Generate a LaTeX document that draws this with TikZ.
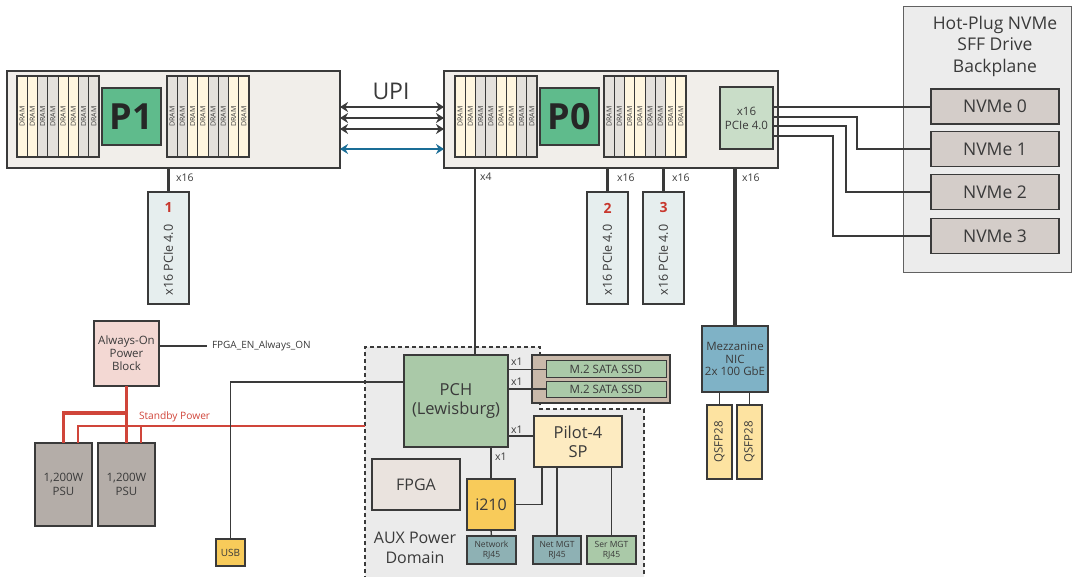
\documentclass[tikz,border=0pt]{standalone}
\usepackage{fontspec}
\setmainfont{Open Sans}
\usetikzlibrary{arrows.meta,calc}
\definecolor{ink}{HTML}{3A3A3A}
\definecolor{board}{HTML}{F1EEEA}
\definecolor{dcream}{HTML}{FFF6DF}
\definecolor{dgray}{HTML}{E4E1DC}
\definecolor{chip}{HTML}{5FBB8C}
\definecolor{pciebox}{HTML}{C9DDC8}
\definecolor{slotfill}{HTML}{E6EEEE}
\definecolor{slotred}{HTML}{C8372D}
\definecolor{bpfill}{HTML}{ECECEC}
\definecolor{nvfill}{HTML}{D4CDC9}
\definecolor{aofill}{HTML}{F3D8D3}
\definecolor{psufill}{HTML}{B4ADA8}
\definecolor{yel}{HTML}{F8CB5A}
\definecolor{auxfill}{HTML}{EBEBEB}
\definecolor{pchgreen}{HTML}{AAC9A8}
\definecolor{tan}{HTML}{C9B9AA}
\definecolor{pilotfill}{HTML}{FDEBC1}
\definecolor{fpgafill}{HTML}{EAE3DE}
\definecolor{teal}{HTML}{8EB1B4}
\definecolor{nicfill}{HTML}{7FB2C6}
\definecolor{qsfpfill}{HTML}{FDE3A1}
\definecolor{pred}{HTML}{D0453A}
\definecolor{upiblue}{HTML}{1A6D96}
\newcommand\fsz[2]{\fontsize{#1}{#2}\selectfont}
\begin{document}
\begin{tikzpicture}[x=1pt,y=-1pt,
  box/.style={draw=ink, line width=1.3pt, inner sep=0pt, outer sep=0pt, text=ink, align=center, font=\fsz{11.5}{13.5}},
  txt/.style={inner sep=0pt, outer sep=0pt, text=ink, align=center},
  dram/.style={draw=ink, line width=0.7pt, inner sep=0pt, outer sep=0pt, minimum width=81pt, minimum height=10.25pt, text=ink, font=\fsz{7}{8}},
  ln/.style={draw=ink, line width=1.3pt},
  thk/.style={draw=ink, line width=3.2pt},
  upiarrow/.style={draw=ink, line width=2.8pt, {Stealth[length=8pt,width=10pt]}-{Stealth[length=8pt,width=10pt]}},
  thickred/.style={draw=pred, line width=3.2pt},
  thinred/.style={draw=pred, line width=1.1pt},
  lbl/.style={txt, anchor=west, font=\fsz{10.5}{12}}
]
\useasboundingbox (0,0) rectangle (1074,577);

% ---------- CPU boards ----------
\node[box, fill=board, line width=1.6pt, minimum width=333pt, minimum height=97pt] (p1) at (173.5,119.5) {};
\node[box, fill=board, line width=1.6pt, minimum width=334pt, minimum height=97pt] (p0) at (611,119.5) {};

\foreach \gx/\p in {17/0,167/1,455/0,604/1}{
  \foreach \i in {0,...,7}{
    \pgfmathtruncatemacro\c{mod(floor(\i/2)+\p,2)}
    \ifnum\c=0 \def\dc{dcream}\else\def\dc{dgray}\fi
    \node[dram, fill=\dc, rotate=90] (dram-\gx-\i) at (\gx+5.125+10.25*\i,116.5) {DRAM};
  }
  \draw[ink, line width=1.3pt] (\gx,76) rectangle (\gx+82,157);
}

\node[box, fill=chip, minimum width=59pt, minimum height=57pt, font=\bfseries\fsz{36}{38}, text=black!85] (p1chip) at (131.5,116.5) {P1};
\node[box, fill=chip, minimum width=59pt, minimum height=57pt, font=\bfseries\fsz{36}{38}, text=black!85] (p0chip) at (569.5,116.5) {P0};
\node[box, fill=pciebox, minimum width=53pt, minimum height=62pt, font=\fsz{11.5}{14}] (pcie) at (746.5,118) {x16\\PCIe 4.0};

% ---------- UPI ----------
\node[txt, font=\fsz{23}{25}] (upi) at (391,91) {UPI};
\draw[upiarrow] ([yshift=12.5pt]p1.east) -- ([yshift=12.5pt]p0.west);
\draw[upiarrow] ([yshift=1.5pt]p1.east) -- ([yshift=1.5pt]p0.west);
\draw[upiarrow] ([yshift=-9.5pt]p1.east) -- ([yshift=-9.5pt]p0.west);
\draw[upiarrow, draw=upiblue] ([yshift=-29.5pt]p1.east) -- ([yshift=-29.5pt]p0.west);

% ---------- Backplane ----------
\node[box, fill=bpfill, draw=ink!80, line width=1pt, minimum width=168pt, minimum height=266pt] (bp) at (987,140) {};
\node[txt, font=\fsz{17.5}{21.5}] (bptitle) at (995,46) {Hot-Plug NVMe\\SFF Drive\\Backplane};
\node[box, fill=nvfill, minimum width=128pt, minimum height=35pt, font=\fsz{17.5}{20}] (nv0) at (995,106.5) {NVMe 0};
\node[box, fill=nvfill, minimum width=128pt, minimum height=35pt, font=\fsz{17.5}{20}] (nv1) at (995,149) {NVMe 1};
\node[box, fill=nvfill, minimum width=128pt, minimum height=35pt, font=\fsz{17.5}{20}] (nv2) at (995,192) {NVMe 2};
\node[box, fill=nvfill, minimum width=128pt, minimum height=35pt, font=\fsz{17.5}{20}] (nv3) at (995,236) {NVMe 3};
\draw[ln, line width=1.1pt] ([yshift=11pt]pcie.east) -- ([yshift=11pt]pcie.east -| nv0.west);
\draw[ln, line width=1.1pt] ([yshift=1pt]pcie.east) -- ++(84,0) |- (nv1.west);
\draw[ln, line width=1.1pt] ([yshift=-8pt]pcie.east) -- ++(73,0) |- (nv2.west);
\draw[ln, line width=1.1pt] ([yshift=-18pt]pcie.east) -- ++(60,0) |- (nv3.west);

% ---------- PCIe slots ----------
\foreach \n/\cx in {1/168.5,2/607.5,3/663.5}{
  \node[box, fill=slotfill, minimum width=41pt, minimum height=112pt] (slot\n) at (\cx,248) {};
  \node[txt, text=slotred, font=\bfseries\fsz{14}{16}] (slotnum\n) at (\cx,208) {\n};
  \node[txt, rotate=90, font=\fsz{12.5}{14}] (slottxt\n) at (\cx,260) {x16 PCIe 4.0};
}
\draw[thk] (slot1.north) -- (slot1.north |- p1.south);
\draw[thk] (slot2.north) -- (slot2.north |- p0.south);
\draw[thk] (slot3.north) -- (slot3.north |- p0.south);
\node[lbl] (l1) at (176,178) {x16};
\node[lbl] (l2) at (617,178) {x16};
\node[lbl] (l3) at (672,178) {x16};
\node[lbl] (l4) at (742,178) {x16};
\node[lbl] (l5) at (480,177) {x4};

% ---------- NIC ----------
\node[box, fill=nicfill, minimum width=66pt, minimum height=66pt, font=\fsz{11.5}{12.5}] (nic) at (735,359) {Mezzanine\\NIC\\2x 100 GbE};
\draw[thk] (nic.north) -- (nic.north |- p0.south);
\node[box, fill=qsfpfill, minimum width=74pt, minimum height=25pt, rotate=90] (qsfp1) at (719.5,442) {QSFP28};
\node[box, fill=qsfpfill, minimum width=74pt, minimum height=25pt, rotate=90] (qsfp2) at (749.5,442) {QSFP28};
\draw[ln] (qsfp1.east) -- (qsfp1.east |- nic.south);
\draw[ln] (qsfp2.east) -- (qsfp2.east |- nic.south);

% ---------- AUX power domain ----------
\fill[auxfill] (365,580) -- (365,347) -- (540,347) -- (540,409) -- (644,409) -- (644,580) -- cycle;
\draw[ink, line width=1.1pt, dash pattern=on 4pt off 3pt] (365,580) -- (365,347) -- (540,347) -- (540,409) -- (644,409) -- (644,580);
\node[txt, font=\fsz{16}{20}] (auxlbl) at (415,548) {AUX Power\\Domain};

\node[box, fill=tan, line width=2pt, minimum width=138pt, minimum height=48pt] (m2) at (601,379) {};
\node[box, fill=pchgreen, line width=1pt, minimum width=120pt, minimum height=17pt] (ssd1) at (606,369.5) {M.2 SATA SSD};
\node[box, fill=pchgreen, line width=1pt, minimum width=120pt, minimum height=16pt] (ssd2) at (606,389) {M.2 SATA SSD};

\node[box, fill=pchgreen, minimum width=104pt, minimum height=92pt, font=\fsz{16.5}{18.5}] (pch) at (456,401) {PCH\\(Lewisburg)};
\node[box, fill=pilotfill, minimum width=88pt, minimum height=51pt, font=\fsz{16.5}{19}] (pilot) at (578,441.5) {Pilot-4\\SP};
\node[box, fill=yel, minimum width=48pt, minimum height=51pt, font=\fsz{16}{18}] (i210) at (491,504.5) {i210};
\node[box, fill=fpgafill, minimum width=88pt, minimum height=51pt, font=\fsz{16}{18}] (fpga) at (416,484.5) {FPGA};
\node[box, fill=teal, minimum width=49pt, minimum height=28pt, font=\fsz{8.5}{10}] (netrj) at (491.5,550) {Network\\RJ45};
\node[box, fill=teal, minimum width=48pt, minimum height=28pt, font=\fsz{8.5}{10}] (mgtrj) at (557,550) {Net MGT\\RJ45};
\node[box, fill=pchgreen, minimum width=49pt, minimum height=28pt, font=\fsz{8.5}{10}] (serrj) at (611.5,550) {Ser MGT\\RJ45};

\draw[ln] ([xshift=19pt]pch.north) -- ([xshift=19pt]pch.north |- p0.south);
\draw[ln] (ssd1.west) -- (ssd1.west -| pch.east);
\draw[ln] (ssd2.west) -- (ssd2.west -| pch.east);
\draw[ln] ([yshift=5.5pt]pilot.west) -- ([yshift=5.5pt]pilot.west -| pch.east);
\draw[ln] (i210.north) -- (i210.north |- pch.south);
\draw[ln] (i210.east) -| ([xshift=-36pt]pilot.south);
\draw[ln] (netrj.north) -- (i210.south);
\draw[ln] (mgtrj.north) -- (mgtrj.north |- pilot.south);
\draw[ln] (serrj.north) -- (serrj.north |- pilot.south);
\node[lbl] (x1a) at (511,362) {x1};
\node[lbl] (x1b) at (511,382) {x1};
\node[lbl] (x1c) at (511,430) {x1};
\node[lbl] (x1d) at (495,457) {x1};

% ---------- Power ----------
\node[box, fill=aofill, minimum width=65pt, minimum height=65pt, font=\fsz{11.5}{13}] (ao) at (126.5,353.5) {Always-On\\Power\\Block};
\node[box, fill=psufill, minimum width=57pt, minimum height=83pt, font=\fsz{11.5}{13.5}] (psu1) at (63.5,484.5) {1,200W\\PSU};
\node[box, fill=psufill, minimum width=57pt, minimum height=83pt, font=\fsz{11.5}{13.5}] (psu2) at (126.5,484.5) {1,200W\\PSU};
\node[box, fill=yel, minimum width=29pt, minimum height=27pt, font=\fsz{10}{12}] (usb) at (230.5,552.5) {USB};

\coordinate (auxin) at (365,426);
\draw[thinred] ([xshift=14.5pt]psu1.north) |- (auxin);
\draw[thinred] ([xshift=14.5pt]psu2.north) -- ++(0,-17);
\draw[thickred] (ao.south) -- (psu2.north);
\draw[thickred] ([yshift=-27pt]ao.south) -| (psu1.north);
\node[txt, anchor=west, text=pred, font=\fsz{10.2}{12}] (sblbl) at (139,417) {Standby Power};

\draw[ln] ([yshift=7.5pt]ao.east) -- ++(48,0) coordinate (fpgaen);
\node[lbl, font=\fsz{10}{12}] (fpgaenlbl) at ([xshift=5pt]fpgaen) {FPGA\_EN\_Always\_ON};
\draw[ln] (usb.north) |- ([yshift=19pt]pch.west);
\end{tikzpicture}
\end{document}
